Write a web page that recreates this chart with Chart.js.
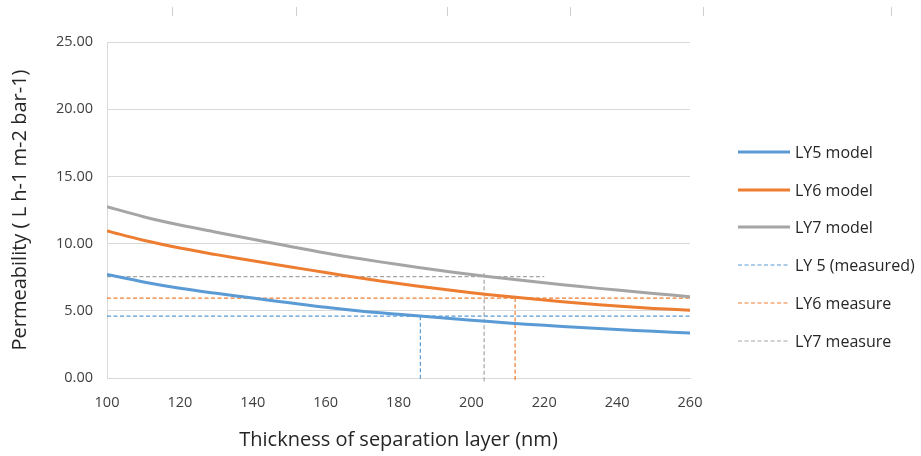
<!DOCTYPE html>
<html>
<head>
<meta charset="utf-8">
<script src="https://cdn.jsdelivr.net/npm/chart.js@4.4.1/dist/chart.umd.min.js"></script>
<style>
  html, body { margin: 0; padding: 0; background: #fff; }
  #wrap { position: relative; width: 921px; height: 456px; }
  .tick-mark { position: absolute; top: 7px; width: 1px; height: 9px; background: #cfcfcf; }
  #legend { position: absolute; left: 738px; top: 133px; }
  .legend-row {
    height: 37.8px; display: flex; align-items: center; gap: 5px;
    font: 16px "Open Sans", sans-serif; color: #262626; white-space: nowrap;
  }
  .legend-row svg { display: block; }
</style>
</head>
<body>
<div id="wrap">
  <div class="tick-mark" style="left:172px"></div>
  <div class="tick-mark" style="left:296px"></div>
  <div class="tick-mark" style="left:447px"></div>
  <div class="tick-mark" style="left:570px"></div>
  <div class="tick-mark" style="left:703px"></div>
  <div class="tick-mark" style="left:891px"></div>
  <canvas id="chart" width="921" height="456"></canvas>
  <div id="legend"></div>
</div>
<script>
// --- DATA ---
const thickness = [100, 110, 120, 130, 140, 150, 160, 170, 180, 190, 200, 210, 220, 230, 240, 250, 260];
const ly5Model = [7.70, 7.15, 6.68, 6.30, 5.95, 5.60, 5.26, 4.97, 4.74, 4.52, 4.30, 4.10, 3.92, 3.76, 3.61, 3.47, 3.35];
const ly6Model = [10.95, 10.25, 9.67, 9.18, 8.72, 8.28, 7.85, 7.42, 7.03, 6.67, 6.35, 6.06, 5.80, 5.56, 5.35, 5.18, 5.05];
const ly7Model = [12.75, 12.00, 11.38, 10.85, 10.32, 9.80, 9.30, 8.85, 8.44, 8.05, 7.70, 7.38, 7.08, 6.80, 6.54, 6.29, 6.05];

// measured: a horizontal level line, then a drop line to the x axis (null = gap)
const ly5MeasuredX = [100, 260, null, 186, 186];
const ly5MeasuredY = [4.6, 4.6, null, 4.6, -0.25];
const ly6MeasuredX = [100, 260, null, 212, 212];
const ly6MeasuredY = [5.95, 5.95, null, 5.95, -0.25];
const ly7MeasuredX = [100, 220, null, 203.5, 203.5];
const ly7MeasuredY = [7.55, 7.55, null, 7.8, -0.25];

const xTicks = [100, 120, 140, 160, 180, 200, 220, 240, 260];
const yTicks = [0, 5, 10, 15, 20, 25];

const BLUE = '#5b9bd5';
const ORANGE = '#ed7d31';
const GREY = '#a5a5a5';

function toPoints(xs, ys) {
    return xs.map((x, i) => ({ x: x, y: ys[i] }));
}

function modelSet(label, ys, color) {
    return {
        label: label,
        data: toPoints(thickness, ys),
        borderColor: color,
        backgroundColor: color,
        borderWidth: 3,
        pointRadius: 0,
        tension: 0.35
    };
}

function measuredSet(label, xs, ys, color) {
    return {
        label: label,
        data: xs.map((x, i) => (x === null ? { x: NaN, y: null } : { x: x, y: ys[i] })),
        borderColor: color,
        backgroundColor: color,
        borderWidth: 1.2,
        borderDash: [4, 2.5],
        pointRadius: 0,
        spanGaps: false,
        clip: false
    };
}

Chart.defaults.font.family = '"Open Sans", sans-serif';
Chart.defaults.color = '#404040';

const chart = new Chart(document.getElementById('chart'), {
    type: 'line',
    data: {
        datasets: [
            modelSet('LY5 model', ly5Model, BLUE),
            modelSet('LY6 model', ly6Model, ORANGE),
            modelSet('LY7 model', ly7Model, GREY),
            measuredSet('LY 5 (measured)', ly5MeasuredX, ly5MeasuredY, BLUE),
            measuredSet('LY6 measure', ly6MeasuredX, ly6MeasuredY, ORANGE),
            measuredSet('LY7 measure', ly7MeasuredX, ly7MeasuredY, GREY)
        ]
    },
    options: {
        responsive: false,
        animation: false,
        layout: { padding: { top: 42, bottom: 0, left: 0, right: 231 } },
        plugins: {
            tooltip: { enabled: false },
            legend: { display: false }
        },
        scales: {
            x: {
                type: 'linear',
                min: 100,
                max: 260,
                afterBuildTicks: s => { s.ticks = xTicks.map(v => ({ value: v })); },
                ticks: { padding: 16, font: { size: 14.5 }, color: '#404040' },
                grid: { display: false, drawTicks: false },
                border: { display: true, color: '#d9d9d9' },
                title: {
                    display: true,
                    text: 'Thickness of separation layer (nm)',
                    font: { size: 20 },
                    color: '#262626',
                    padding: { top: 0, bottom: 4 }
                },
                afterFit: s => { s.height = 78; }
            },
            y: {
                min: 0,
                max: 25,
                afterBuildTicks: s => { s.ticks = yTicks.map(v => ({ value: v })); },
                ticks: {
                    padding: 14,
                    font: { size: 14.5 },
                    color: '#404040',
                    callback: v => v.toFixed(2)
                },
                grid: { color: '#d9d9d9', drawTicks: false },
                border: { display: true, color: '#d9d9d9' },
                title: {
                    display: true,
                    text: 'Permeability ( L h-1 m-2 bar-1)',
                    font: { size: 20 },
                    color: '#262626',
                    padding: { top: 8, bottom: 0 }
                },
                afterFit: s => { s.width = 107; }
            }
        }
    }
});

// --- HTML LEGEND (dashed samples for the measured series) ---
const legendEl = document.getElementById('legend');
chart.data.datasets.forEach(ds => {
    const row = document.createElement('div');
    row.className = 'legend-row';
    const dash = (ds.borderDash || []).join(' ');
    row.innerHTML = `<svg width="52" height="6"><line x1="0" y1="3" x2="52" y2="3" stroke="${ds.borderColor}" stroke-width="${ds.borderWidth}" stroke-dasharray="${dash}"/></svg><span>${ds.label}</span>`;
    legendEl.appendChild(row);
});
</script>
</body>
</html>
